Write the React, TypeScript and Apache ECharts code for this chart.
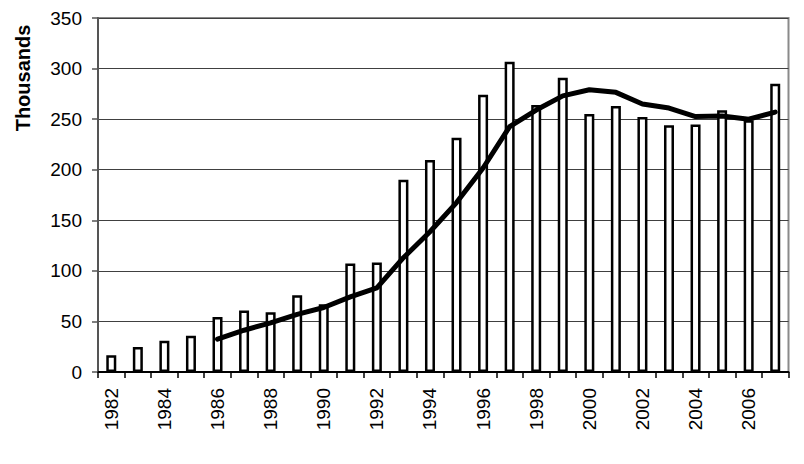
import React, { useEffect, useRef } from "react";
import * as echarts from "echarts";

const years = ["1982","1983","1984","1985","1986","1987","1988","1989","1990","1991","1992","1993","1994","1995","1996","1997","1998","1999","2000","2001","2002","2003","2004","2005","2006","2007"];
const barValues = [16.5, 24.8, 31, 35.8, 54.5, 60.8, 59, 76, 67, 107.3, 108.3, 190, 209.7, 231.5, 274, 306.7, 264, 291, 255, 263, 252, 244, 244.6, 258.9, 249, 285];
const lineValues = [null, null, null, null, 32.4, 41.3, 48.6, 57, 63.8, 74.3, 83.2, 113, 138.7, 167.5, 201.7, 242.6, 259, 273, 279, 276.5, 265, 261, 252.5, 253, 250, 257];
const yTicks = { min: 0, max: 350, interval: 50 };
const yName = "Thousands";

export default function App() {
  const ref = useRef<HTMLDivElement>(null);
  useEffect(() => {
    if (!ref.current) return;
    const chart = echarts.init(ref.current, null, { renderer: "svg" });
    const font = "Liberation Sans, Arial, sans-serif";
    chart.setOption({
      animation: false,
      backgroundColor: "#ffffff",
      grid: {
        left: 98, right: 15.5, top: 18, bottom: 92,
        show: true, borderColor: "#8a8a8a", borderWidth: 2, backgroundColor: "transparent",
      },
      graphic: [
        {
          type: "text",
          x: 23, y: 78,
          rotation: Math.PI / 2,
          style: {
            text: yName, fontFamily: font, fontWeight: "bold", fontSize: 20,
            fill: "#000", align: "center", verticalAlign: "middle",
          },
        },
      ],
      xAxis: {
        type: "category",
        data: years,
        boundaryGap: true,
        axisLine: { lineStyle: { color: "#000", width: 2 } },
        axisTick: { show: true, alignWithLabel: false, interval: 0, length: 6, lineStyle: { color: "#000", width: 1.5 } },
        axisLabel: { rotate: 90, interval: 1, margin: 16, fontFamily: font, fontSize: 19, color: "#000" },
        splitLine: { show: false },
      },
      yAxis: {
        type: "value",
        min: yTicks.min, max: yTicks.max, interval: yTicks.interval,
        axisLine: { show: true, lineStyle: { color: "#555", width: 2 } },
        axisTick: { show: true, length: 6, lineStyle: { color: "#555", width: 1.5 } },
        axisLabel: { margin: 16, fontFamily: font, fontSize: 19, color: "#000" },
        splitLine: { show: true, lineStyle: { color: "#404040", width: 1 } },
      },
      series: [
        {
          type: "bar",
          data: barValues,
          barWidth: 10,
          itemStyle: { color: "#ffffff", borderColor: "#000", borderWidth: 2.5 },
          z: 2,
        },
        {
          type: "line",
          data: lineValues,
          showSymbol: false,
          symbol: "none",
          connectNulls: false,
          lineStyle: { color: "#000", width: 5, join: "round", cap: "round" },
          z: 3,
        },
      ],
    });
    return () => chart.dispose();
  }, []);
  return <div ref={ref} style={{ width: 804, height: 464, position: "absolute", left: 0, top: 0 }} />;
}
